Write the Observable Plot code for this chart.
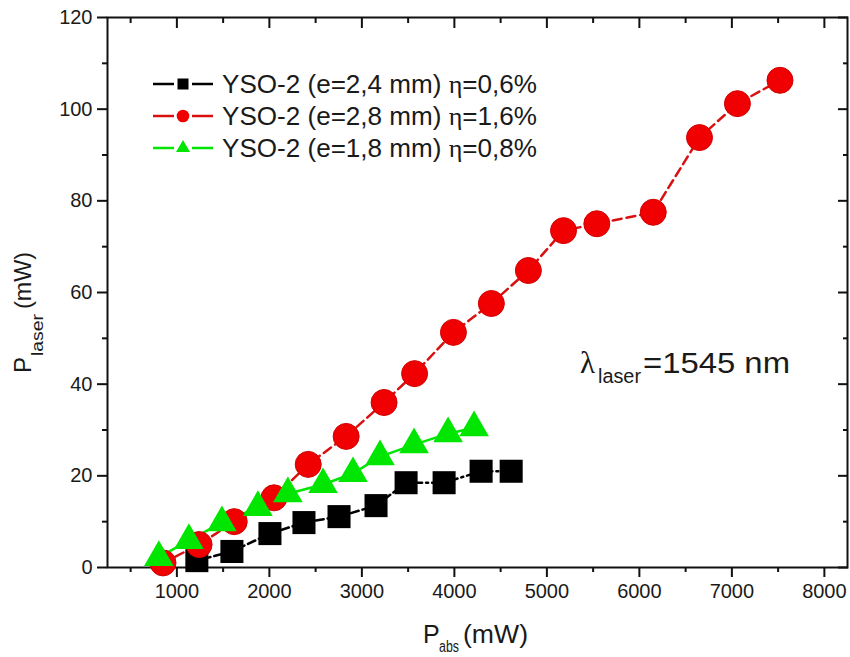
<!DOCTYPE html>
<html>
<head>
<meta charset="utf-8">
<script src="https://cdn.jsdelivr.net/npm/d3@7"></script>
<script src="https://cdn.jsdelivr.net/npm/@observablehq/plot@0.6"></script>
<style>
  html, body { margin: 0; padding: 0; background: #fff; }
  #chart svg { display: block; }
</style>
</head>
<body>
<div id="chart"></div>
<script>
// ---- data ----
const seriesNames = [
  "YSO-2 (e=2,4 mm)",
  "YSO-2 (e=2,8 mm)",
  "YSO-2 (e=1,8 mm)"
];
const seriesEta = ["η=0,6%", "η=1,6%", "η=0,8%"];

const pabsBlack   = [1216, 1595, 2006, 2374, 2753, 3153, 3478, 3889, 4289, 4614];
const plaserBlack = [1.5, 3.5, 7.4, 9.8, 11.1, 13.5, 18.5, 18.5, 21.0, 21.0];

const pabsRed   = [850, 1240, 1620, 2050, 2420, 2830, 3240, 3570, 3990, 4400, 4800, 5180, 5540, 6150, 6650, 7060, 7520];
const plaserRed = [1.0, 5.0, 10.0, 15.2, 22.5, 28.6, 36.0, 42.3, 51.3, 57.6, 64.8, 73.5, 75.0, 77.5, 93.8, 101.2, 106.3];

const pabsGreen   = [805, 1130, 1487, 1876, 2200, 2580, 2904, 3196, 3564, 3932, 4213];
const plaserGreen = [2.2, 5.9, 9.8, 13.1, 16.1, 18.1, 20.5, 24.2, 26.8, 29.2, 30.5];

const xMajorTicks = [1000, 2000, 3000, 4000, 5000, 6000, 7000, 8000];
const xMinorTicks = [500, 1500, 2500, 3500, 4500, 5500, 6500, 7500];
const yMajorTicks = [0, 20, 40, 60, 80, 100, 120];
const yMinorTicks = [10, 30, 50, 70, 90, 110];

const toRows = (xs, ys) => xs.map((x, i) => ({x, y: ys[i]}));
const black = toRows(pabsBlack, plaserBlack);
const red = toRows(pabsRed, plaserRed);
const green = toRows(pabsGreen, plaserGreen);

const cBlack = "#000000", cRed = "#f00000", cRedLine = "#d81010", cGreen = "#00e600";
const axisColor = "#111";
const fmt = d => String(d);

const plot = Plot.plot({
  width: 850,
  height: 657,
  marginLeft: 107,
  marginRight: 3,
  marginTop: 17,
  marginBottom: 90,
  style: {fontFamily: "'Liberation Sans', Arial, sans-serif", fontSize: "20px", color: "#1a1a1a", background: "#fff"},
  x: {domain: [250, 8250]},
  y: {domain: [0, 120]},
  marks: [
    Plot.axisX({ticks: xMajorTicks, tickSize: 10, tickPadding: 6, tickFormat: fmt, label: null, stroke: axisColor, strokeWidth: 2, fontSize: 20}),
    Plot.axisX({ticks: xMinorTicks, tickSize: 5, tickFormat: () => "", label: null, stroke: axisColor, strokeWidth: 2}),
    Plot.axisY({ticks: yMajorTicks, tickSize: 10, tickPadding: 5, tickFormat: fmt, label: null, stroke: axisColor, strokeWidth: 2, fontSize: 20}),
    Plot.axisY({ticks: yMinorTicks, tickSize: 5, tickFormat: () => "", label: null, stroke: axisColor, strokeWidth: 2}),
    Plot.axisX({anchor: "top", ticks: xMajorTicks, tickSize: -10, tickFormat: () => "", label: null, stroke: axisColor, strokeWidth: 2}),
    Plot.axisX({anchor: "top", ticks: xMinorTicks, tickSize: -5, tickFormat: () => "", label: null, stroke: axisColor, strokeWidth: 2}),
    Plot.axisY({anchor: "right", ticks: yMajorTicks, tickSize: -10, tickFormat: () => "", label: null, stroke: axisColor, strokeWidth: 2}),
    Plot.axisY({anchor: "right", ticks: yMinorTicks, tickSize: -5, tickFormat: () => "", label: null, stroke: axisColor, strokeWidth: 2}),
    Plot.frame({stroke: axisColor, strokeWidth: 2}),
    Plot.line(black, {x: "x", y: "y", stroke: cBlack, strokeWidth: 2.5, strokeDasharray: "8,4,2,4"}),
    Plot.line(red, {x: "x", y: "y", stroke: cRedLine, strokeWidth: 2.5, strokeDasharray: "9,5"}),
    Plot.line(green, {x: "x", y: "y", stroke: cGreen, strokeWidth: 2.5}),
    Plot.dot(black, {x: "x", y: "y", symbol: "square", r: 13, fill: cBlack, stroke: "none"}),
    Plot.dot(red, {x: "x", y: "y", symbol: "circle", r: 13, fill: cRed, stroke: "#d00000", strokeWidth: 1}),
    Plot.dot(green, {x: "x", y: "y", symbol: "triangle", r: 11, fill: cGreen, stroke: "none"})
  ]
});

document.getElementById("chart").appendChild(plot);

// ---- legend, annotation and axis labels (added into the same SVG) ----
const svg = d3.select(plot);
const sans = "'Liberation Sans', Arial, sans-serif";
const serif = "'Liberation Serif', 'Times New Roman', serif";
const ink = "#1a1a1a";

const legendRows = [
  {name: seriesNames[0], eta: seriesEta[0], color: cBlack, line: cBlack, sym: d3.symbolSquare, size: 121},
  {name: seriesNames[1], eta: seriesEta[1], color: cRed, line: cRedLine, sym: d3.symbolCircle, size: 125},
  {name: seriesNames[2], eta: seriesEta[2], color: cGreen, line: cGreen, sym: d3.symbolTriangle, size: 85}
];
const lg = svg.append("g").attr("class", "legend").attr("text-anchor", "start");
legendRows.forEach((r, i) => {
  const cy = 84 + i * 32;
  const g = lg.append("g").attr("transform", `translate(0,${cy})`);
  g.append("line").attr("x1", 153).attr("x2", 174).attr("y1", 0).attr("y2", 0)
    .attr("stroke", r.line).attr("stroke-width", 2.5);
  g.append("line").attr("x1", 192).attr("x2", 213).attr("y1", 0).attr("y2", 0)
    .attr("stroke", r.line).attr("stroke-width", 2.5);
  g.append("path").attr("d", d3.symbol(r.sym, r.size)()).attr("transform", "translate(183,0)").attr("fill", r.color);
  const t = g.append("text").attr("x", 222).attr("y", 0).attr("dy", "0.36em")
    .attr("font-family", sans).attr("font-size", 25).attr("fill", ink)
    .attr("textLength", 315).attr("lengthAdjust", "spacingAndGlyphs");
  t.append("tspan").text(r.name + " ");
  t.append("tspan").attr("font-family", serif).text(r.eta.slice(0, 1));
  t.append("tspan").text(r.eta.slice(1));
});

// lambda annotation
const ann = svg.append("g").attr("text-anchor", "start").attr("font-family", sans).attr("fill", ink);
ann.append("text").attr("x", 580).attr("y", 373).attr("font-family", serif).attr("font-size", 31).text("λ");
ann.append("text").attr("x", 598).attr("y", 383).attr("font-size", 20)
  .attr("textLength", 43).attr("lengthAdjust", "spacingAndGlyphs").text("laser");
ann.append("text").attr("x", 643).attr("y", 373).attr("font-size", 30)
  .attr("textLength", 147).attr("lengthAdjust", "spacingAndGlyphs").text("=1545 nm");

// x label
const xl = svg.append("g").attr("text-anchor", "start").attr("font-family", sans).attr("fill", ink);
xl.append("text").attr("x", 423).attr("y", 643).attr("font-size", 25).text("P");
xl.append("text").attr("x", 439).attr("y", 652).attr("font-size", 16)
  .attr("textLength", 20).attr("lengthAdjust", "spacingAndGlyphs").text("abs");
xl.append("text").attr("x", 463).attr("y", 643).attr("font-size", 25)
  .attr("textLength", 65).attr("lengthAdjust", "spacingAndGlyphs").text("(mW)");

// y label (rotated)
const yl = svg.append("g").attr("text-anchor", "start").attr("font-family", sans).attr("fill", ink)
  .attr("transform", "translate(31,373) rotate(-90)");
yl.append("text").attr("x", 0).attr("y", 0).attr("font-size", 24).text("P");
yl.append("text").attr("x", 17).attr("y", 12).attr("font-size", 16)
  .attr("textLength", 42).attr("lengthAdjust", "spacingAndGlyphs").text("laser");
yl.append("text").attr("x", 64).attr("y", 0).attr("font-size", 24)
  .attr("textLength", 57).attr("lengthAdjust", "spacingAndGlyphs").text("(mW)");
</script>
</body>
</html>
